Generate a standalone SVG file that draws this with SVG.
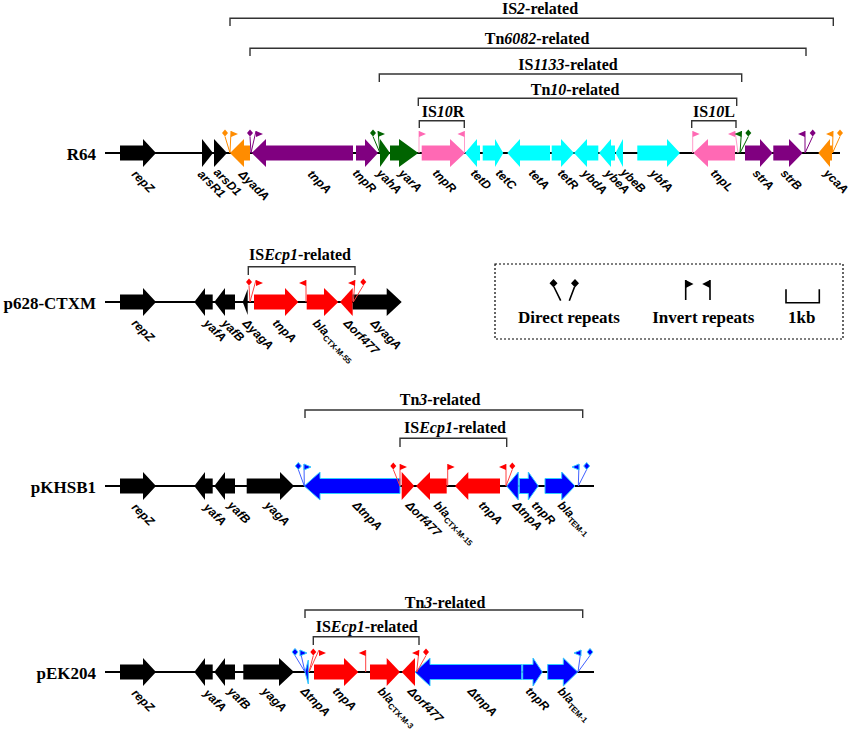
<svg xmlns="http://www.w3.org/2000/svg" xmlns:xlink="http://www.w3.org/1999/xlink" width="851" height="732" viewBox="0 0 851 732">
<style>
.bk{fill:#000}.or{fill:#FF8C00}.pu{fill:#800080}.gr{fill:#006400}.pk{fill:#FF69B4}.cy{fill:#00FFFF}.rd{fill:#FF0000}.bl{fill:#0000FF;stroke:#33CCFF;stroke-width:1}
.lor{stroke:#FF8C00}.lpu{stroke:#800080}.lgr{stroke:#006400}.lpk{stroke:#FF9CCB}.lrd{stroke:#FF4040}.lbl{stroke:#4060FF}
.ml{fill:none;stroke-width:1}
.bb{stroke:#000;stroke-width:2;fill:none}
.br{fill:none;stroke:#333;stroke-width:1.4}
.gl{font-family:"Liberation Sans",Arial,sans-serif;font-style:italic;font-weight:bold;font-size:12px;fill:#000}
.sub{font-size:8px;font-style:normal}
.bt{font-family:"Liberation Serif","Times New Roman",serif;font-weight:bold;font-size:16px;text-anchor:middle;fill:#000}
.rl{font-family:"Liberation Serif","Times New Roman",serif;font-weight:bold;font-size:17px;text-anchor:end;fill:#000}
.lt{font-family:"Liberation Serif","Times New Roman",serif;font-weight:bold;font-size:17px;text-anchor:middle;fill:#000}
</style>
<defs>
<path id="dia" d="M0,-3.5 L3,0 0,3.5 -3,0Z"/>
<path id="fr" d="M0,0 L7,3 0,6Z"/>
<path id="fl" d="M0,0 L-7,3 0,6Z"/>
</defs>

<!-- brackets -->
<g id="brackets">
<path class="br" d="M230,26 V18.3 H833.3 V26"/>
<path class="br" d="M250,56 V48.3 H806 V56"/>
<path class="br" d="M379.3,82 V74 H741.7 V82"/>
<path class="br" d="M418.3,106 V98.3 H736.7 V106"/>
<path class="br" d="M419.3,128 V120.7 H464.3 V128"/>
<path class="br" d="M691.7,128 V120.7 H736 V128"/>
<path class="br" d="M248.3,275 V266.7 H355 V275"/>
<path class="br" d="M305,418 V410 H582.7 V418"/>
<path class="br" d="M400,447 V438.3 H506.7 V447"/>
<path class="br" d="M305,618 V610 H582.7 V618"/>
<path class="br" d="M313.3,645 V636.7 H419 V645"/>
<text class="bt" x="540" y="14">IS<tspan font-style="italic">2</tspan>-related</text>
<text class="bt" x="537" y="43.5">Tn<tspan font-style="italic">6082</tspan>-related</text>
<text class="bt" x="568" y="70">IS<tspan font-style="italic">1133</tspan>-related</text>
<text class="bt" x="575" y="95">Tn<tspan font-style="italic">10</tspan>-related</text>
<text class="bt" x="443" y="116.5">IS<tspan font-style="italic">10</tspan>R</text>
<text class="bt" x="714" y="116.5">IS<tspan font-style="italic">10</tspan>L</text>
<text class="bt" x="300" y="260">IS<tspan font-style="italic">Ecp1</tspan>-related</text>
<text class="bt" x="440" y="404.5">Tn<tspan font-style="italic">3</tspan>-related</text>
<text class="bt" x="455" y="433">IS<tspan font-style="italic">Ecp1</tspan>-related</text>
<text class="bt" x="445" y="608">Tn<tspan font-style="italic">3</tspan>-related</text>
<text class="bt" x="366.7" y="632">IS<tspan font-style="italic">Ecp1</tspan>-related</text>
</g>

<!-- ================= R64 ================= -->
<g id="row-R64" transform="translate(0,153)">
<text class="rl" x="96" y="7">R64</text>
<g id="connectors-R64"><path class="bb" d="M105,0 H840"/></g>
<g id="R64-repZ"><polygon class="bk" points="120,-7.5 143,-7.5 143,-14 156,0 143,14 143,7.5 120,7.5"/><text class="gl" transform="translate(131,22) rotate(45)">repZ</text></g>
<g id="R64-arsR1"><polygon class="bk" points="202,-14 213,0 202,14"/><text class="gl" transform="translate(197,22) rotate(45)">arsR1</text></g>
<g id="R64-arsD1"><polygon class="bk" points="214,-14 227,0 214,14"/><text class="gl" transform="translate(213,20) rotate(45)">arsD1</text></g>
<g id="R64-yadA"><polygon class="or" points="230,0 244,-14 244,-7.5 250,-7.5 250,7.5 244,7.5 244,14"/><text class="gl" transform="translate(238,22) rotate(45)">ΔyadA</text></g>
<g id="R64-tnpA"><polygon class="pu" points="251.7,0 266,-14 266,-7.5 353,-7.5 353,7.5 266,7.5 266,14"/><text class="gl" transform="translate(307,22) rotate(45)">tnpA</text></g>
<g id="R64-tnpR1"><polygon class="pu" points="356,-7.5 365,-7.5 365,-14 378,0 365,14 365,7.5 356,7.5"/><text class="gl" transform="translate(352,21) rotate(45)">tnpR</text></g>
<g id="R64-yahA"><polygon class="gr" points="380,-14 390,0 380,14"/><text class="gl" transform="translate(376,21) rotate(45)">yahA</text></g>
<g id="R64-yarA"><polygon class="gr" points="390,-7.5 399,-7.5 399,-14 418.3,0 399,14 399,7.5 390,7.5"/><text class="gl" transform="translate(398,21) rotate(45)">yarA</text></g>
<g id="R64-tnpR2"><polygon class="pk" points="421.7,-7.5 450,-7.5 450,-14 465,0 450,14 450,7.5 421.7,7.5"/><text class="gl" transform="translate(432,21) rotate(45)">tnpR</text></g>
<g id="R64-tetD"><polygon class="cy" points="465,0 477,-14 477,-7.5 480,-7.5 480,7.5 477,7.5 477,14"/><text class="gl" transform="translate(470,21) rotate(45)">tetD</text></g>
<g id="R64-tetC"><polygon class="cy" points="482.7,-7.5 495,-7.5 495,-14 503.3,0 495,14 495,7.5 482.7,7.5"/><text class="gl" transform="translate(495,21) rotate(45)">tetC</text></g>
<g id="R64-tetA"><polygon class="cy" points="507.3,0 520,-14 520,-7.5 550,-7.5 550,7.5 520,7.5 520,14"/><text class="gl" transform="translate(528,21) rotate(45)">tetA</text></g>
<g id="R64-tetR"><polygon class="cy" points="551.7,-7.5 561,-7.5 561,-14 574,0 561,14 561,7.5 551.7,7.5"/><text class="gl" transform="translate(557,21) rotate(45)">tetR</text></g>
<g id="R64-ybdA"><polygon class="cy" points="574,0 587,-14 587,-7.5 598.3,-7.5 598.3,7.5 587,7.5 587,14"/><text class="gl" transform="translate(581,21) rotate(45)">ybdA</text></g>
<g id="R64-ybeA"><polygon class="cy" points="599,0 611,-14 611,-7.5 615,-7.5 615,7.5 611,7.5 611,14"/><text class="gl" transform="translate(604,21) rotate(45)">ybeA</text></g>
<g id="R64-ybeB"><polygon class="cy" points="615.5,0 623,-14 623,14"/><text class="gl" transform="translate(620,20) rotate(45)">ybeB</text></g>
<g id="R64-ybfA"><polygon class="cy" points="637.3,-7.5 667,-7.5 667,-14 680,0 667,14 667,7.5 637.3,7.5"/><text class="gl" transform="translate(649,21) rotate(45)">ybfA</text></g>
<g id="R64-tnpL"><polygon class="pk" points="693.3,0 708,-14 708,-7.5 735,-7.5 735,7.5 708,7.5 708,14"/><text class="gl" transform="translate(710,21) rotate(45)">tnpL</text></g>
<g id="R64-strA"><polygon class="pu" points="745,-7.5 760,-7.5 760,-14 772.7,0 760,14 760,7.5 745,7.5"/><text class="gl" transform="translate(752,21) rotate(45)">strA</text></g>
<g id="R64-strB"><polygon class="pu" points="773.3,-7.5 789,-7.5 789,-14 802.7,0 789,14 789,7.5 773.3,7.5"/><text class="gl" transform="translate(780,21) rotate(45)">strB</text></g>
<g id="R64-ycaA"><polygon class="or" points="818.3,0 830,-14 830,-7.5 832,-7.5 832,7.5 830,7.5 830,14"/><text class="gl" transform="translate(823,21) rotate(45)">ycaA</text></g>
<g id="R64-repeats">
<path class="ml lor" d="M225,-16.5 L230,0 M231,-22 L230,0"/><use href="#dia" x="225" y="-20" class="or"/><use href="#fr" x="231" y="-22" class="or"/>
<path class="ml lpu" d="M250,-16.5 L251,0 M256,-22 L251,0"/><use href="#dia" x="250" y="-20" class="pu"/><use href="#fr" x="256" y="-22" class="pu"/>
<path class="ml lgr" d="M373,-16.5 L380,0 M378,-22 L380,0"/><use href="#dia" x="373" y="-20" class="gr"/><use href="#fr" x="378" y="-22" class="gr"/>
<path class="ml lpk" d="M419,-22 V0"/><use href="#fr" x="419" y="-22" class="pk"/>
<path class="ml lpk" d="M464.5,-22 V0"/><use href="#fl" x="464.5" y="-22" class="pk"/>
<path class="ml lpk" d="M692.7,-22 V0"/><use href="#fr" x="692.7" y="-22" class="pk"/>
<path class="ml lpk" d="M735,-22 L738,0"/><use href="#fl" x="735" y="-22" class="pk"/>
<path class="ml lgr" d="M741.5,-22 L740,0 M748.3,-16.5 L740,0"/><use href="#fl" x="741.5" y="-22" class="gr"/><use href="#dia" x="748.3" y="-20" class="gr"/>
<path class="ml lpu" d="M805,-22 L805,0 M812.7,-16.5 L805,0"/><use href="#fl" x="805" y="-22" class="pu"/><use href="#dia" x="812.7" y="-20" class="pu"/>
<path class="ml lor" d="M833,-22 L832.5,0 M840,-16.5 L832.5,0"/><use href="#fl" x="833" y="-22" class="or"/><use href="#dia" x="840" y="-20" class="or"/>
</g>
</g>

<!-- ================= p628-CTXM ================= -->
<g id="row-p628" transform="translate(0,302)">
<text class="rl" x="96" y="7">p628-CTXM</text>
<g id="connectors-p628"><path class="bb" d="M105,0 H400"/></g>
<g id="p628-repZ"><polygon class="bk" points="120,-7.5 143,-7.5 143,-14 156,0 143,14 143,7.5 120,7.5"/><text class="gl" transform="translate(131,22) rotate(45)">repZ</text></g>
<g id="p628-yafA"><polygon class="bk" points="194.3,0 205,-14 205,-7.5 212.7,-7.5 212.7,7.5 205,7.5 205,14"/><text class="gl" transform="translate(203,22) rotate(45)">yafA</text></g>
<g id="p628-yafB"><polygon class="bk" points="214.3,0 225,-14 225,-7.5 235,-7.5 235,7.5 225,7.5 225,14"/><text class="gl" transform="translate(221,22) rotate(45)">yafB</text></g>
<g id="p628-yagA1"><polygon class="bk" points="242.7,0 247.7,-13 247.7,13"/><text class="gl" transform="translate(242,22) rotate(45)">ΔyagA</text></g>
<g id="p628-tnpA"><polygon class="rd" points="254,-7.5 285,-7.5 285,-14 298.3,0 285,14 285,7.5 254,7.5"/><text class="gl" transform="translate(272,22) rotate(45)">tnpA</text></g>
<g id="p628-bla"><polygon class="rd" points="306.7,-7.5 324,-7.5 324,-14 338.3,0 324,14 324,7.5 306.7,7.5"/><text class="gl" transform="translate(312,22) rotate(45)">bla<tspan class="sub" dy="3">CTX-M-55</tspan></text></g>
<g id="p628-orf477"><polygon class="rd" points="340,0 352.7,-14 352.7,14"/><text class="gl" transform="translate(343,22) rotate(45)">Δorf477</text></g>
<g id="p628-yagA2"><polygon class="bk" points="352.7,-7.5 386.7,-7.5 386.7,-14 401.7,0 386.7,14 386.7,7.5 352.7,7.5"/><text class="gl" transform="translate(370,22) rotate(45)">ΔyagA</text></g>
<g id="p628-repeats">
<path class="ml lrd" d="M249,-16.5 L250,0 M256,-22 L250,0"/><use href="#dia" x="249" y="-20" class="rd"/><use href="#fr" x="256" y="-22" class="rd"/>
<path class="ml lrd" d="M306,-22 V0"/><use href="#fl" x="306" y="-22" class="rd"/>
<path class="ml lrd" d="M355,-22 L353.3,0 M363.3,-16.5 L353.3,0"/><use href="#fl" x="355" y="-22" class="rd"/><use href="#dia" x="363.3" y="-20" class="rd"/>
</g>
</g>

<!-- ================= legend ================= -->
<g id="legend">
<rect x="495" y="264" width="348" height="75" fill="none" stroke="#000" stroke-width="1.2" stroke-dasharray="2 2"/>
<path d="M554,287 L560.7,300.7 M574.5,287 L569.3,300.7" stroke="#000" stroke-width="1.6" fill="none"/>
<path d="M553.5,279 L557.5,283.3 553.5,287.6 549.5,283.3Z M575,279 L579,283.3 575,287.6 571,283.3Z" fill="#000"/>
<path d="M685.7,280 V300 M710,280 V300" stroke="#000" stroke-width="1.6" fill="none"/>
<path d="M685.7,280 L693.5,284 685.7,288Z M710,280 L702.2,284 710,288Z" fill="#000"/>
<path d="M786,289.3 V302.7 H819.3 V289.3" stroke="#000" stroke-width="1.6" fill="none"/>
<text class="lt" x="569" y="323">Direct repeats</text>
<text class="lt" x="703.3" y="323">Invert repeats</text>
<text class="lt" x="801.7" y="323">1kb</text>
</g>

<!-- ================= pKHSB1 ================= -->
<g id="row-pKHSB1" transform="translate(0,486)">
<text class="rl" x="96" y="7">pKHSB1</text>
<g id="connectors-pKHSB1"><path class="bb" d="M105,0 H594"/></g>
<g id="pK-repZ"><polygon class="bk" points="120,-7.5 143,-7.5 143,-14 156,0 143,14 143,7.5 120,7.5"/><text class="gl" transform="translate(131,22) rotate(45)">repZ</text></g>
<g id="pK-yafA"><polygon class="bk" points="194.3,0 205,-14 205,-7.5 212.7,-7.5 212.7,7.5 205,7.5 205,14"/><text class="gl" transform="translate(203,22) rotate(45)">yafA</text></g>
<g id="pK-yafB"><polygon class="bk" points="214.3,0 225,-14 225,-7.5 235,-7.5 235,7.5 225,7.5 225,14"/><text class="gl" transform="translate(227,20) rotate(45)">yafB</text></g>
<g id="pK-yagA"><polygon class="bk" points="246.7,-7.5 280,-7.5 280,-14 294,0 280,14 280,7.5 246.7,7.5"/><text class="gl" transform="translate(264,20) rotate(45)">yagA</text></g>
<g id="pK-tnpA1"><polygon class="bl" points="304.3,0 320,-14 320,-7.5 400,-7.5 400,7.5 320,7.5 320,14"/><text class="gl" transform="translate(352,20) rotate(45)">ΔtnpA</text></g>
<g id="pK-orf477"><polygon class="rd" points="401.7,-14 414.3,0 401.7,14"/><text class="gl" transform="translate(405,20) rotate(45)">Δorf477</text></g>
<g id="pK-bla1"><polygon class="rd" points="416,0 430,-14 430,-7.5 446.7,-7.5 446.7,7.5 430,7.5 430,14"/><text class="gl" transform="translate(433,20) rotate(45)">bla<tspan class="sub" dy="3">CTX-M-15</tspan></text></g>
<g id="pK-tnpA2"><polygon class="rd" points="455,0 468.3,-14 468.3,-7.5 500,-7.5 500,7.5 468.3,7.5 468.3,14"/><text class="gl" transform="translate(478,20) rotate(45)">tnpA</text></g>
<g id="pK-tnpA3"><polygon class="bl" points="506.7,0 518.3,-14 518.3,14"/><text class="gl" transform="translate(512,20) rotate(45)">ΔtnpA</text></g>
<g id="pK-tnpR"><polygon class="bl" points="519.3,-7.5 528.3,-7.5 528.3,-14 538.3,0 528.3,14 528.3,7.5 519.3,7.5"/><text class="gl" transform="translate(531,20) rotate(45)">tnpR</text></g>
<g id="pK-bla2"><polygon class="bl" points="545,-7.5 561.7,-7.5 561.7,-14 575,0 561.7,14 561.7,7.5 545,7.5"/><text class="gl" transform="translate(557,20) rotate(45)">bla<tspan class="sub" dy="3">TEM-1</tspan></text></g>
<g id="pK-repeats">
<path class="ml lbl" d="M298.3,-16.5 L304.3,0 M304,-22 L304.3,0"/><use href="#dia" x="298.3" y="-20" class="bl"/><use href="#fr" x="304" y="-22" class="bl"/>
<path class="ml lrd" d="M393.3,-16.5 L400,0 M400,-22 L400,0"/><use href="#dia" x="393.3" y="-20" class="rd"/><use href="#fr" x="400" y="-22" class="rd"/>
<path class="ml lrd" d="M447.7,-22 V0"/><use href="#fr" x="447.7" y="-22" class="rd"/>
<path class="ml lrd" d="M506,-22 L506,0 M512.3,-16.5 L506,0"/><use href="#fl" x="506" y="-22" class="rd"/><use href="#dia" x="512.3" y="-20" class="rd"/>
<path class="ml lbl" d="M579,-22 L578.3,0 M586.7,-16.5 L578.3,0"/><use href="#fl" x="579" y="-22" class="bl"/><use href="#dia" x="586.7" y="-20" class="bl"/>
</g>
</g>

<!-- ================= pEK204 ================= -->
<g id="row-pEK204" transform="translate(0,672)">
<text class="rl" x="96" y="7">pEK204</text>
<g id="connectors-pEK204"><path class="bb" d="M105,0 H594"/></g>
<g id="pE-repZ"><polygon class="bk" points="120,-7.5 143,-7.5 143,-14 156,0 143,14 143,7.5 120,7.5"/><text class="gl" transform="translate(131,22) rotate(45)">repZ</text></g>
<g id="pE-yafA"><polygon class="bk" points="194.3,0 205,-14 205,-7.5 212.7,-7.5 212.7,7.5 205,7.5 205,14"/><text class="gl" transform="translate(203,22) rotate(45)">yafA</text></g>
<g id="pE-yafB"><polygon class="bk" points="214.3,0 225,-14 225,-7.5 235,-7.5 235,7.5 225,7.5 225,14"/><text class="gl" transform="translate(227,20) rotate(45)">yafB</text></g>
<g id="pE-yagA"><polygon class="bk" points="243.3,-7.5 279,-7.5 279,-14 294,0 279,14 279,7.5 243.3,7.5"/><text class="gl" transform="translate(261,20) rotate(45)">yagA</text></g>
<g id="pE-tnpA1"><polygon class="bl" points="305,0 308.3,-12 308.3,12"/><text class="gl" transform="translate(300,20) rotate(45)">ΔtnpA</text></g>
<g id="pE-tnpA2"><polygon class="rd" points="314,-7.5 344,-7.5 344,-14 358.3,0 344,14 344,7.5 314,7.5"/><text class="gl" transform="translate(332,20) rotate(45)">tnpA</text></g>
<g id="pE-bla1"><polygon class="rd" points="370,-7.5 386.7,-7.5 386.7,-14 400,0 386.7,14 386.7,7.5 370,7.5"/><text class="gl" transform="translate(377,20) rotate(45)">bla<tspan class="sub" dy="3">CTX-M-3</tspan></text></g>
<g id="pE-orf477"><polygon class="rd" points="401.7,0 415,-14 415,14"/><text class="gl" transform="translate(407,20) rotate(45)">Δorf477</text></g>
<g id="pE-tnpA3"><polygon class="bl" points="415,0 430,-14 430,-7.5 521.7,-7.5 521.7,7.5 430,7.5 430,14"/><text class="gl" transform="translate(467,20) rotate(45)">ΔtnpA</text></g>
<g id="pE-tnpR"><polygon class="bl" points="522.7,-7.5 533,-7.5 533,-14 542.3,0 533,14 533,7.5 522.7,7.5"/><text class="gl" transform="translate(525,20) rotate(45)">tnpR</text></g>
<g id="pE-bla2"><polygon class="bl" points="547.7,-7.5 563.3,-7.5 563.3,-14 577.7,0 563.3,14 563.3,7.5 547.7,7.5"/><text class="gl" transform="translate(557,20) rotate(45)">bla<tspan class="sub" dy="3">TEM-1</tspan></text></g>
<g id="pE-repeats">
<path class="ml lbl" d="M295,-16.5 L305,0 M300,-22 L305,0"/><use href="#dia" x="295" y="-20" class="bl"/><use href="#fr" x="300" y="-22" class="bl"/>
<path class="ml lrd" d="M313.3,-16.5 L309,0 M319,-22 L309,0"/><use href="#dia" x="313.3" y="-20" class="rd"/><use href="#fr" x="319" y="-22" class="rd"/>
<path class="ml lrd" d="M365.7,-22 V0"/><use href="#fl" x="365.7" y="-22" class="rd"/>
<path class="ml lrd" d="M419,-22 L416.7,0 M426,-16.5 L416.7,0"/><use href="#fl" x="419" y="-22" class="rd"/><use href="#dia" x="426" y="-20" class="rd"/>
<path class="ml lbl" d="M581,-22 L578,0 M590,-16.5 L578,0"/><use href="#fl" x="581" y="-22" class="bl"/><use href="#dia" x="590" y="-20" class="bl"/>
</g>
</g>
</svg>
